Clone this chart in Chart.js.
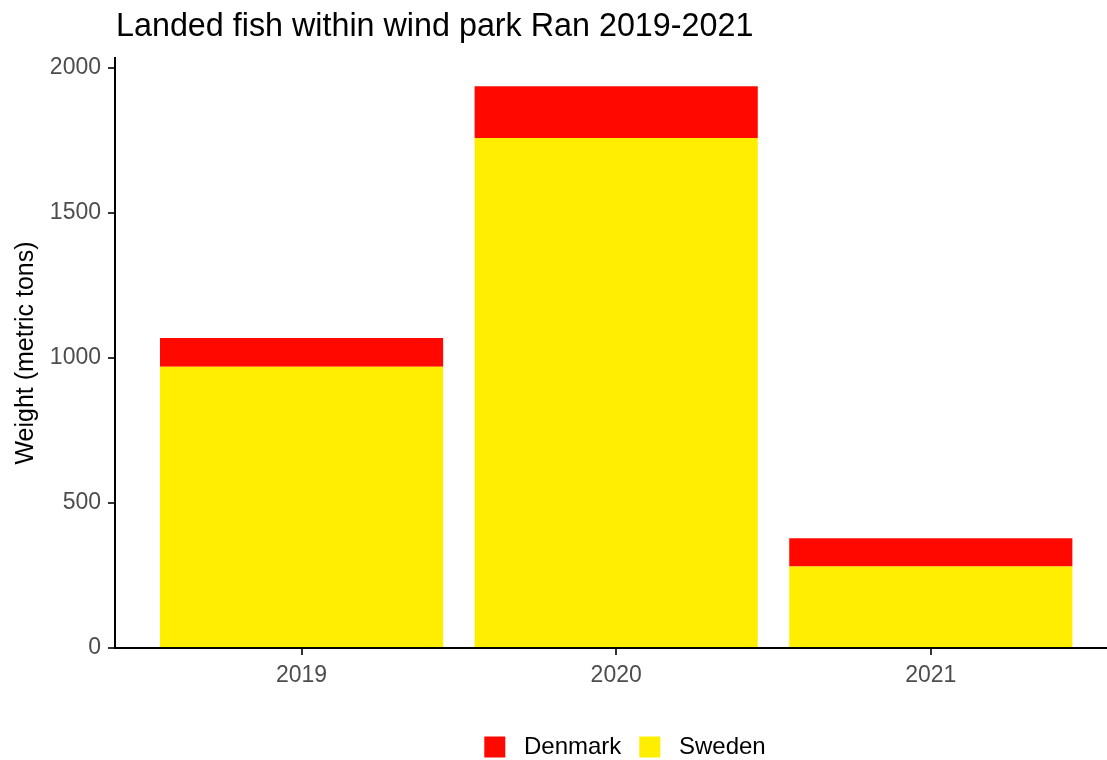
<!DOCTYPE html>
<html>
<head>
<meta charset="utf-8">
<script src="https://cdn.jsdelivr.net/npm/chart.js@4/dist/chart.umd.min.js"></script>
<style>
  html, body { margin: 0; padding: 0; background: #fff; }
  #wrap { width: 1107px; height: 760px; }
</style>
</head>
<body>
<div id="wrap"><canvas id="fishChart"></canvas></div>
<script>
// data
const years = ['2019', '2020', '2021'];
const sweden = [969, 1757, 281];
const denmark = [99, 179, 97];
const yTicks = [0, 500, 1000, 1500, 2000];

const titleText = 'Landed fish within wind park Ran 2019-2021';
const font = 'Liberation Sans, Arial, Helvetica, sans-serif';

// title drawn at the left edge of the plot, like ggplot
const plotTitle = {
  id: 'plotTitle',
  afterDraw(chart) {
    const c = chart.ctx;
    c.save();
    c.font = '32.3px ' + font;
    c.fillStyle = '#000';
    c.textBaseline = 'alphabetic';
    c.fillText(titleText, chart.chartArea.left + 1, 36);
    c.restore();
  }
};

// ggplot centres the legend a little right of the canvas middle
const legendShift = {
  id: 'legendShift',
  afterLayout(chart) {
    chart.legend.left += 14;
    chart.legend.right += 14;
  }
};

const ctx = document.getElementById('fishChart').getContext('2d');
new Chart(ctx, {
  type: 'bar',
  data: {
    labels: years,
    datasets: [
      { label: 'Sweden', data: sweden, backgroundColor: '#ffee00', borderWidth: 0 },
      { label: 'Denmark', data: denmark, backgroundColor: '#ff0800', borderWidth: 0 }
    ]
  },
  options: {
    responsive: true,
    maintainAspectRatio: false,
    animation: false,
    datasets: { bar: { barPercentage: 0.9, categoryPercentage: 1 } },
    layout: { padding: { top: 58, right: 0, bottom: -9, left: 0 } },
    scales: {
      x: {
        type: 'linear',
        stacked: true,
        offset: false,
        min: 2018.407,
        max: 2021.56,
        afterBuildTicks: s => { s.ticks = years.map(v => ({ value: +v })); },
        afterFit: s => { s.height = 69; },
        ticks: {
          autoSkip: false,
          color: '#4d4d4d',
          font: { family: font, size: 23 },
          padding: 7,
          callback: v => String(v)
        },
        grid: { offset: false, drawOnChartArea: false, drawTicks: true, tickLength: 7, color: '#333', lineWidth: 2 },
        border: { display: true, color: '#000', width: 2 }
      },
      y: {
        stacked: true,
        min: 0,
        max: 2033,
        afterBuildTicks: s => { s.ticks = yTicks.map(v => ({ value: v })); },
        afterFit: s => { s.width = 115; },
        ticks: {
          color: '#4d4d4d',
          font: { family: font, size: 23 },
          padding: 7,
          callback: v => String(v)
        },
        grid: { drawOnChartArea: false, drawTicks: true, tickLength: 7, color: '#333', lineWidth: 2 },
        border: { display: true, color: '#000', width: 2 },
        title: {
          display: true,
          text: 'Weight (metric tons)',
          color: '#000',
          font: { family: font, size: 25 },
          padding: { top: 11, bottom: 0 }
        }
      }
    },
    plugins: {
      title: { display: false },
      tooltip: { enabled: false },
      legend: {
        position: 'bottom',
        fullSize: false,
        reverse: true,
        labels: {
          boxWidth: 21,
          boxHeight: 21,
          padding: 18,
          color: '#000',
          font: { family: font, size: 24 },
          generateLabels: chart => Chart.defaults.plugins.legend.labels.generateLabels(chart)
            .map(item => ({ ...item, text: ' ' + item.text }))
        }
      }
    }
  },
  plugins: [plotTitle, legendShift]
});
</script>
</body>
</html>
